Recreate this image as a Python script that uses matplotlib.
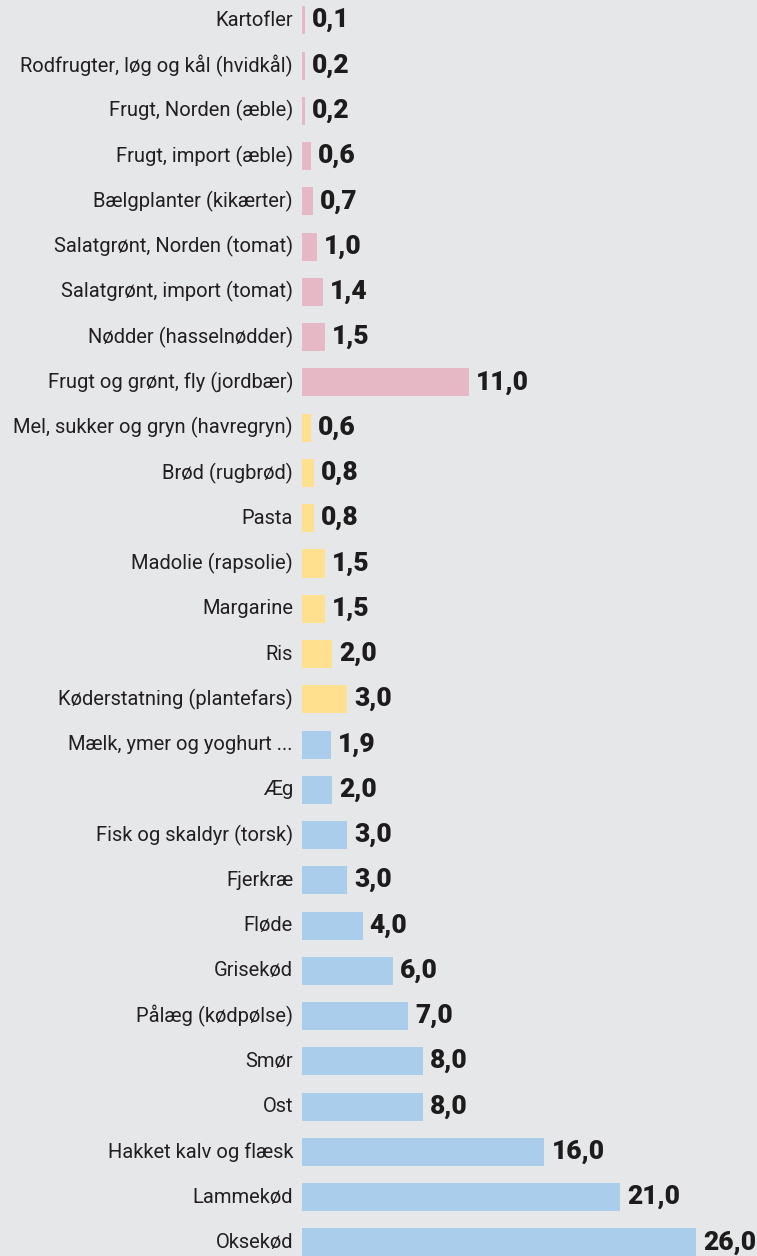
import matplotlib
matplotlib.use("Agg")
import matplotlib.pyplot as plt

categories = [
    "Kartofler", "Rodfrugter, løg og kål (hvidkål)", "Frugt, Norden (æble)",
    "Frugt, import (æble)", "Bælgplanter (kikærter)", "Salatgrønt, Norden (tomat)",
    "Salatgrønt, import (tomat)", "Nødder (hasselnødder)", "Frugt og grønt, fly (jordbær)",
    "Mel, sukker og gryn (havregryn)", "Brød (rugbrød)", "Pasta", "Madolie (rapsolie)",
    "Margarine", "Ris", "Køderstatning (plantefars)", "Mælk, ymer og yoghurt ...",
    "Æg", "Fisk og skaldyr (torsk)", "Fjerkræ", "Fløde", "Grisekød", "Pålæg (kødpølse)",
    "Smør", "Ost", "Hakket kalv og flæsk", "Lammekød", "Oksekød",
]
values = [0.1, 0.2, 0.2, 0.6, 0.7, 1.0, 1.4, 1.5, 11.0,
          0.6, 0.8, 0.8, 1.5, 1.5, 2.0, 3.0,
          1.9, 2.0, 3.0, 3.0, 4.0, 6.0, 7.0, 8.0, 8.0, 16.0, 21.0, 26.0]
groups = ["veg"] * 9 + ["grain"] * 7 + ["animal"] * 12
group_colors = {"veg": "#e6b8c6", "grain": "#fee08f", "animal": "#aacdec"}

W, H = 757, 1256
fig = plt.figure(figsize=(W / 100, H / 100), dpi=100)
bg = "#e6e7e9"
fig.patch.set_facecolor(bg)
ax = fig.add_axes([302 / W, 0, 1 - 302 / W, 1])
ax.set_facecolor(bg)

y = list(range(len(categories)))
cols = [group_colors[g] for g in groups]
ax.barh(y, [max(v, 0.18) for v in values], height=0.62, color=cols, left=0)
ax.set_xlim(0, 30.03)
ax.set_ylim(27.3, -0.45)
for s in ax.spines.values():
    s.set_visible(False)
ax.set_xticks([])
ax.set_yticks([])

px = 30.03 / (W - 302)
for yi, (c, v) in enumerate(zip(categories, values)):
    ax.text(-9 * px, yi, c, ha="right", va="center", fontsize=14.5,
            family=["Roboto", "DejaVu Sans"], color="#231f20", clip_on=False)
    ax.text(max(v, 0.18) + 7 * px, yi, f"{v:.1f}".replace(".", ","),
            ha="left", va="center", fontsize=19, fontweight=900,
            family=["Roboto", "DejaVu Sans"], color="#1e1b1c",
            clip_on=False)

fig.savefig("out.png", dpi=100, facecolor=bg)
